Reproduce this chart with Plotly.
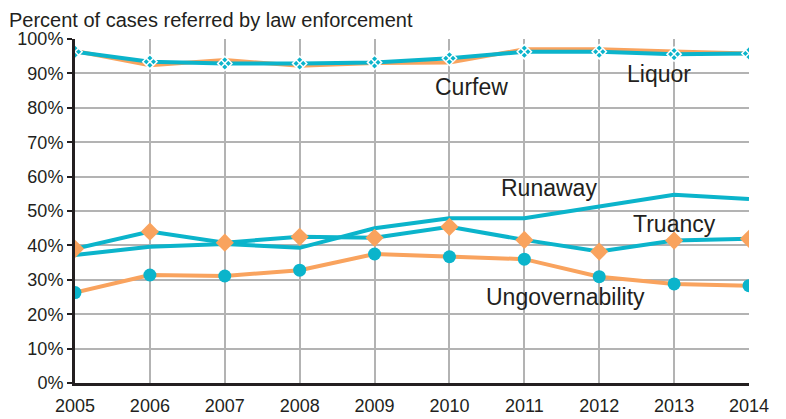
import plotly.graph_objects as go

years = [2005, 2006, 2007, 2008, 2009, 2010, 2011, 2012, 2013, 2014]
curfew = [96.5, 92.4, 93.9, 92.2, 93.0, 93.2, 97.0, 97.0, 96.4, 95.8]
liquor = [96.3, 93.4, 92.9, 92.9, 93.2, 94.4, 96.3, 96.3, 95.6, 95.8]
runaway = [37.2, 39.6, 40.4, 39.3, 45.0, 47.9, 47.9, 51.3, 54.7, 53.5]
truancy = [39.0, 44.0, 40.8, 42.5, 42.2, 45.4, 41.6, 38.2, 41.4, 41.9]
ungovernability = [26.3, 31.4, 31.1, 32.8, 37.5, 36.7, 36.0, 30.9, 28.8, 28.3]
y_ticks = [0, 10, 20, 30, 40, 50, 60, 70, 80, 90, 100]
y_tick_labels = [f"{v}%" for v in y_ticks]

TEAL = "#0BB4CB"
ORANGE = "#F9A35E"
FONT = "Liberation Sans, Arial, sans-serif"
TXT = "#231F20"

fig = go.Figure()
fig.add_trace(go.Scatter(x=years, y=curfew, mode="lines", name="Curfew",
                         line=dict(color=ORANGE, width=4)))
fig.add_trace(go.Scatter(x=years, y=liquor, mode="lines+markers", name="Liquor",
                         line=dict(color=TEAL, width=4),
                         marker=dict(symbol="diamond-x", size=11, color=TEAL,
                                     line=dict(color="white", width=1.5))))
fig.add_trace(go.Scatter(x=years, y=runaway, mode="lines", name="Runaway",
                         line=dict(color=TEAL, width=4)))
fig.add_trace(go.Scatter(x=years, y=truancy, mode="lines+markers", name="Truancy",
                         line=dict(color=TEAL, width=4),
                         marker=dict(symbol="diamond", size=14, color=ORANGE)))
fig.add_trace(go.Scatter(x=years, y=ungovernability, mode="lines+markers", name="Ungovernability",
                         line=dict(color=ORANGE, width=4),
                         marker=dict(symbol="circle", size=13, color=TEAL)))

labels = [("Curfew", 2010.3, 86.0), ("Liquor", 2012.8, 89.8), ("Runaway", 2011.33, 56.7),
          ("Truancy", 2013.0, 46.2), ("Ungovernability", 2011.55, 25.0)]
for txt, lx, ly in labels:
    fig.add_annotation(x=lx, y=ly, text=txt, showarrow=False, xref="x", yref="y",
                       font=dict(family=FONT, size=23, color=TXT))

fig.add_annotation(x=0, y=1, xref="paper", yref="paper", xanchor="left", yanchor="top",
                   text="Percent of cases referred by law enforcement", showarrow=False,
                   font=dict(family=FONT, size=20, color=TXT), borderpad=0,
                   xshift=-67, yshift=31)

fig.update_layout(
    width=778, height=411,
    margin=dict(l=67, r=37, t=31, b=36),
    paper_bgcolor="white", plot_bgcolor="white",
    showlegend=False,
    font=dict(family=FONT, size=18, color=TXT),
)
fig.update_xaxes(range=[2005, 2014], tickvals=years, ticktext=[str(y) for y in years],
                 showgrid=True, gridcolor="#B3B3B3", gridwidth=2,
                 showline=True, linecolor=TXT, linewidth=3,
                 ticks="", zeroline=False, tickfont=dict(size=18),
                 ticklabelstandoff=4, automargin=False)
fig.update_yaxes(range=[0, 100], tickvals=y_ticks, ticktext=y_tick_labels,
                 showgrid=True, gridcolor="#B3B3B3", gridwidth=2,
                 showline=True, linecolor=TXT, linewidth=3,
                 ticks="outside", ticklen=5, tickcolor=TXT, tickwidth=2,
                 zeroline=False, tickfont=dict(size=18), automargin=False)

fig.write_html("out.html")
